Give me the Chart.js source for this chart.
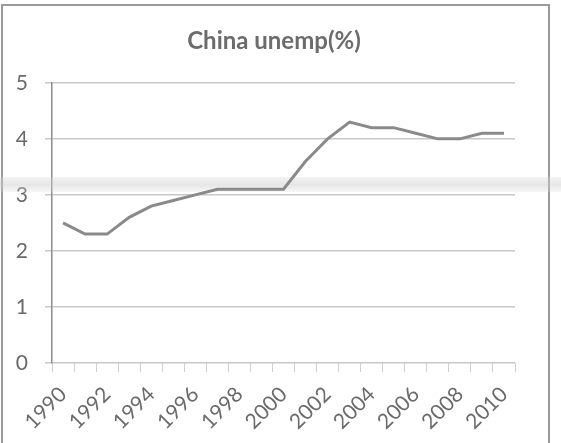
<!DOCTYPE html>
<html>
<head>
<meta charset="utf-8">
<script src="https://cdn.jsdelivr.net/npm/chart.js@4"></script>
<style>
  html, body { margin: 0; padding: 0; background: #fff; }
  #wrap { width: 561px; height: 443px; position: relative; }
</style>
</head>
<body>
<div id="wrap"><canvas id="c" width="561" height="443"></canvas></div>
<script>
const years = ["1990","1991","1992","1993","1994","1995","1996","1997","1998","1999","2000",
               "2001","2002","2003","2004","2005","2006","2007","2008","2009","2010"];
const unemp = [2.5,2.3,2.3,2.6,2.8,2.9,3.0,3.1,3.1,3.1,3.1,3.6,4.0,4.3,4.2,4.2,4.1,4.0,4.0,4.1,4.1];
const shownYears = ["1990","1992","1994","1996","1998","2000","2002","2004","2006","2008","2010"];
const yTicks = [0,1,2,3,4,5];
const titleText = "China unemp(%)";

const frame = {
  id: 'frame',
  beforeDraw(chart) {
    const ctx = chart.ctx;
    ctx.save();
    ctx.fillStyle = '#fff';
    ctx.fillRect(0, 0, chart.width, chart.height);
    ctx.strokeStyle = '#9a9a9a';
    ctx.lineWidth = 2;
    ctx.strokeRect(2, 5, 547, 445);
    ctx.restore();
  },
  beforeDatasetsDraw(chart) {
    const ctx = chart.ctx;
    ctx.save();
    const g = ctx.createLinearGradient(0, 177, 0, 192);
    g.addColorStop(0, 'rgba(215,215,215,0.3)');
    g.addColorStop(0.5, 'rgba(205,205,205,0.5)');
    g.addColorStop(1, 'rgba(220,220,220,0.25)');
    ctx.fillStyle = g;
    ctx.fillRect(0, 177, chart.width, 15);
    ctx.restore();
  }
};

new Chart(document.getElementById('c'), {
  type: 'line',
  data: {
    labels: years,
    datasets: [{
      data: unemp,
      borderColor: '#8a8a8a',
      borderWidth: 3,
      pointRadius: 0,
      tension: 0,
      fill: false
    }]
  },
  options: {
    responsive: false,
    animation: false,
    devicePixelRatio: 1,
    layout: { padding: { left: 0, right: 13, top: 0, bottom: 0 } },
    plugins: {
      legend: { display: false },
      tooltip: { enabled: false },
      title: {
        display: true,
        text: titleText,
        color: '#6c6c6c',
        font: { family: 'Lato', size: 24, weight: 'bold', lineHeight: 1.2 },
        padding: { top: 27, bottom: 27 }
      }
    },
    scales: {
      x: {
        offset: true,
        grid: {
          offset: true,
          drawOnChartArea: false,
          drawTicks: true,
          tickLength: 9,
          color: '#d0d0d0',
          lineWidth: 1
        },
        border: { display: false },
        ticks: {
          autoSkip: false,
          maxRotation: 45,
          minRotation: 45,
          padding: 10,
          color: '#6a6a6a',
          font: { family: 'Lato', size: 21 },
          callback: function(v, i) {
            const lab = this.getLabelForValue(v);
            return shownYears.includes(lab) ? lab : '';
          }
        },
        afterFit(scale) { scale.height = 80; }
      },
      y: {
        min: 0,
        max: 5,
        afterBuildTicks(scale) { scale.ticks = yTicks.map(v => ({ value: v })); },
        grid: {
          color: '#c8c8c8',
          lineWidth: 1.5,
          drawTicks: true,
          tickLength: 7
        },
        border: { display: true, color: '#8c8c8c', width: 1.5 },
        ticks: {
          padding: 17,
          color: '#6a6a6a',
          font: { family: 'Lato', size: 21 }
        },
        afterFit(scale) { scale.width = 52; }
      },
      yRight: {
        position: 'right',
        display: true,
        min: 0,
        max: 5,
        grid: { display: false, drawTicks: false },
        border: { display: false },
        ticks: { display: false },
        afterFit(scale) { scale.width = 33; }
      }
    }
  },
  plugins: [frame]
});
</script>
</body>
</html>
